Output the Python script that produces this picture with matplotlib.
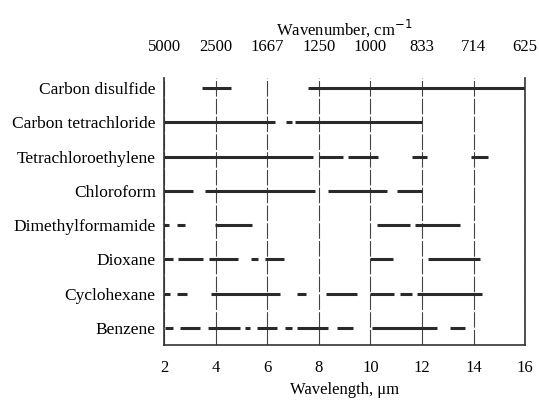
import matplotlib
matplotlib.use("Agg")
import matplotlib.pyplot as plt

# solvent transparency windows (wavelength, um)
solvents = [
    "Carbon disulfide",
    "Carbon tetrachloride",
    "Tetrachloroethylene",
    "Chloroform",
    "Dimethylformamide",
    "Dioxane",
    "Cyclohexane",
    "Benzene",
]
carbon_disulfide = [(3.46, 4.58), (7.59, 16.0)]
carbon_tetrachloride = [(2.0, 6.3), (6.73, 6.96), (7.08, 12.0)]
tetrachloroethylene = [(2.0, 7.78), (8.0, 8.94), (9.13, 10.3), (11.6, 12.2), (13.9, 14.56)]
chloroform = [(2.0, 3.12), (3.6, 7.85), (8.36, 10.64), (11.03, 12.0)]
dimethylformamide = [(2.0, 2.2), (2.5, 2.8), (3.98, 5.41), (10.25, 11.53), (11.73, 13.47)]
dioxane = [(2.0, 2.35), (2.54, 3.51), (3.74, 4.87), (5.37, 5.64), (5.91, 6.65),
           (9.98, 10.88), (12.23, 14.25)]
cyclohexane = [(2.0, 2.22), (2.5, 2.9), (3.82, 6.5), (7.16, 7.5), (8.28, 9.48),
               (9.98, 10.9), (11.15, 11.6), (11.8, 14.33)]
benzene = [(2.04, 2.35), (2.62, 3.4), (3.7, 4.95), (5.14, 5.33), (5.6, 6.38),
           (6.7, 6.96), (7.16, 8.36), (8.7, 9.33), (10.06, 12.6), (13.08, 13.67)]

windows = [carbon_disulfide, carbon_tetrachloride, tetrachloroethylene, chloroform,
           dimethylformamide, dioxane, cyclohexane, benzene]

wavelengths = [2, 4, 6, 8, 10, 12, 14, 16]
wavenumbers = ["5000", "2500", "1667", "1250", "1000", "833", "714", "625"]

plt.rcParams["font.family"] = ["Liberation Serif", "DejaVu Serif"]

fig = plt.figure(figsize=(5.39, 4.08), dpi=100)
ax = fig.add_axes([0.3043, 0.1544, 0.670, 0.654])

for row, segs in enumerate(windows):
    for start, end in segs:
        ax.hlines(row, start, end, color="#2a2a2a", lw=2.2)

ax.set_xlim(2, 16)
ax.set_ylim(7.5, -0.29)
ax.set_yticks(range(len(solvents)))
ax.set_yticklabels(solvents, fontsize=12.5)
ax.set_xticks(wavelengths)
ax.set_xticklabels([str(w) for w in wavelengths], fontsize=12)
ax.tick_params(axis="y", length=0, pad=6)
ax.tick_params(axis="x", length=0, pad=11)
ax.set_xlabel("Wavelength, \u03bcm", fontsize=12, labelpad=4)
ax.grid(True, axis="x", color="#444444", lw=0.8, linestyle=(0, (14, 2)))
ax.set_axisbelow(True)
ax.spines["top"].set_visible(False)
for side in ["left", "right", "bottom"]:
    ax.spines[side].set_color("#333333")
    ax.spines[side].set_linewidth(1.2)

top = ax.twiny()
top.set_xlim(2, 16)
top.set_xticks(wavelengths)
top.set_xticklabels(wavenumbers, fontsize=12)
top.tick_params(length=0, pad=17)
for side in top.spines:
    top.spines[side].set_visible(False)
top.set_xlabel("Wavenumber, cm$^{-1}$", fontsize=12, labelpad=3)

fig.savefig("out.png", dpi=100)
